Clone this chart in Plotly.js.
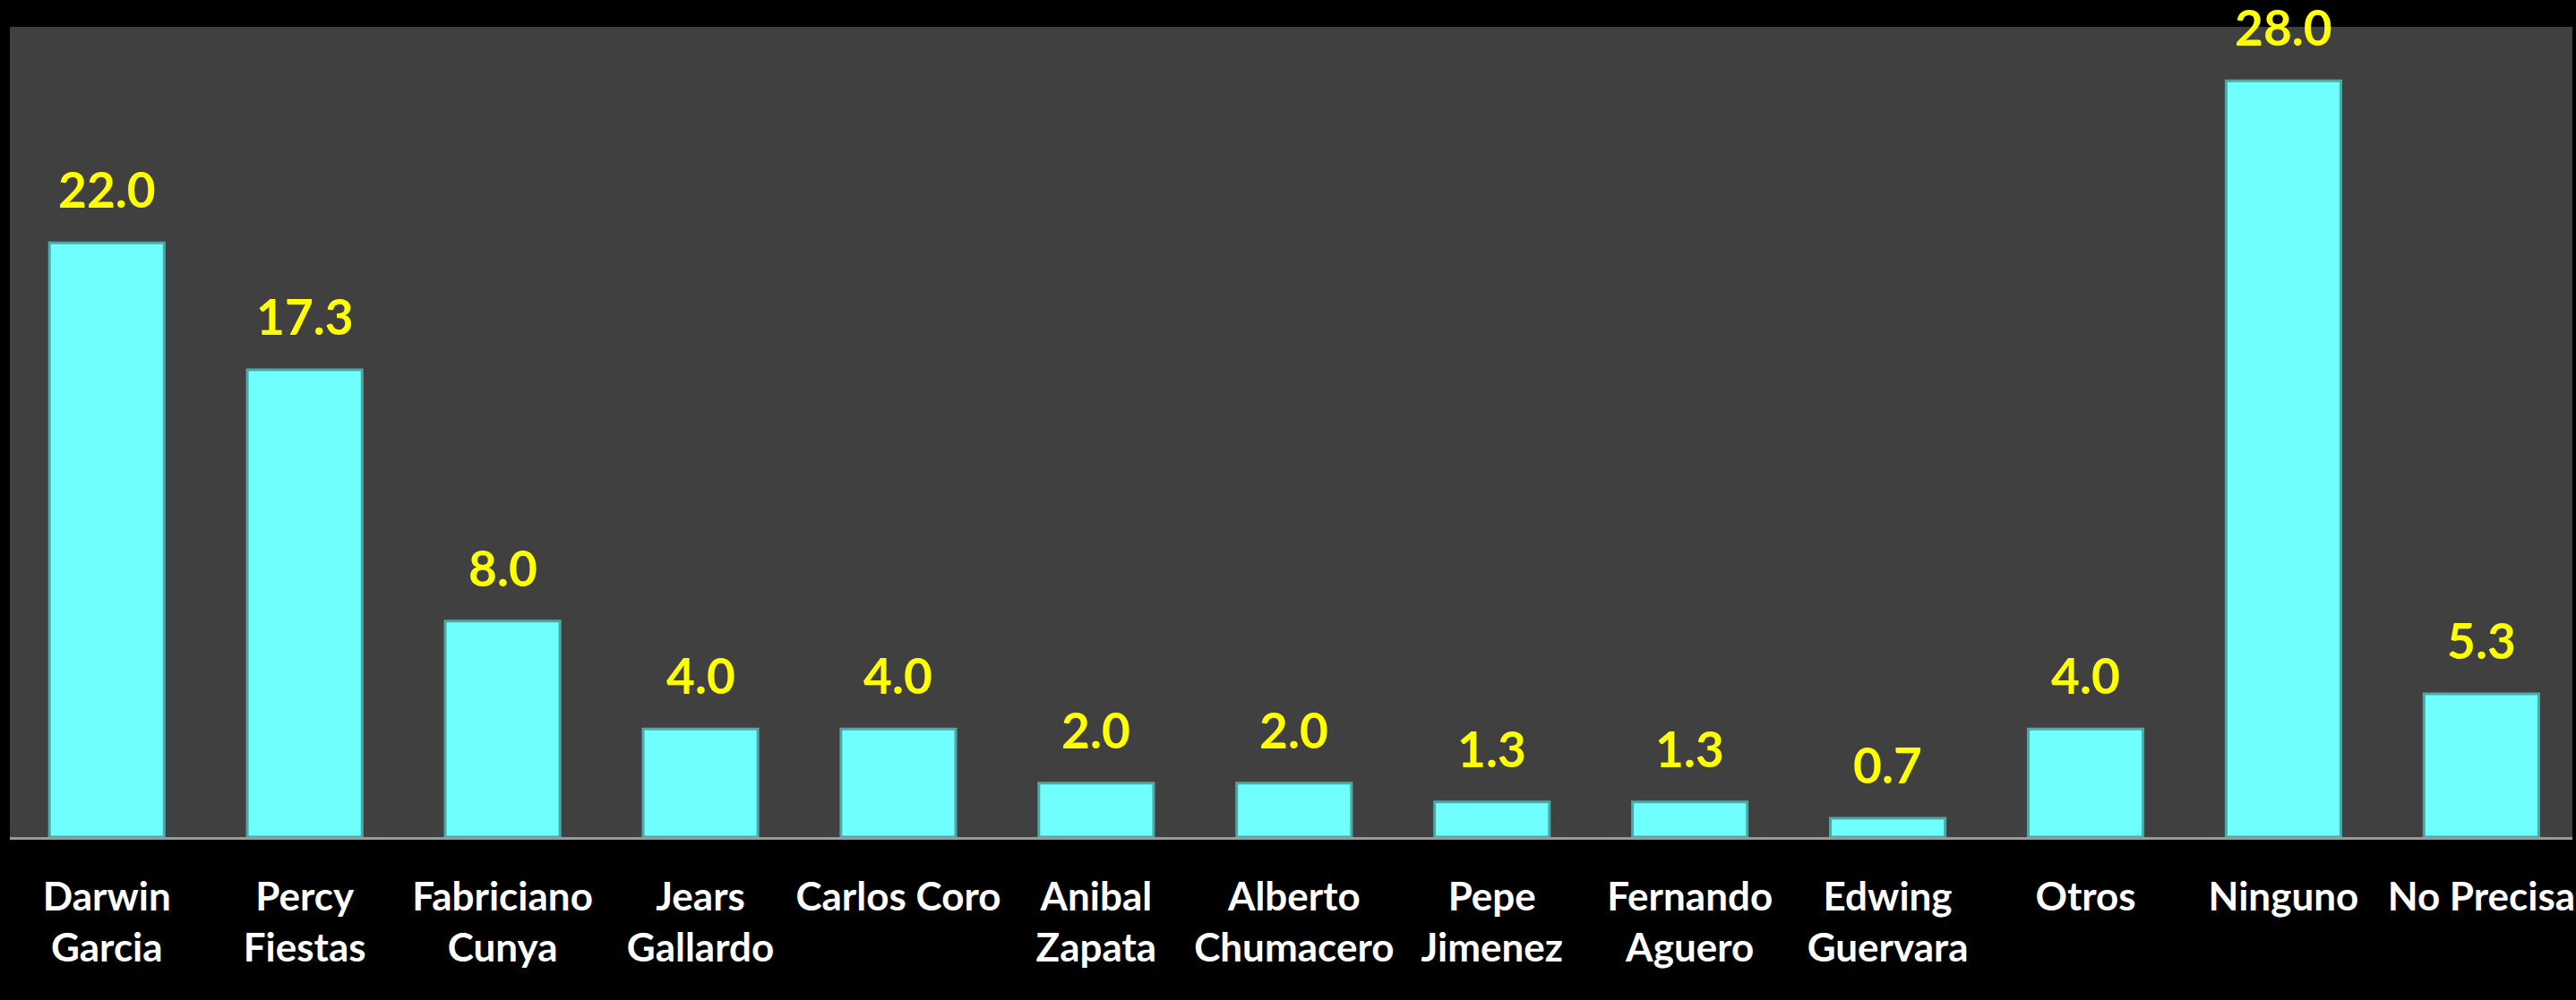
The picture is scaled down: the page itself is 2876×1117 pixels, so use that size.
<!DOCTYPE html>
<html>
<head>
<meta charset="utf-8">
<script src="https://cdn.plot.ly/plotly-3.0.1.min.js"></script>
<style>
html,body{margin:0;padding:0;background:#000;}
#chart{width:2876px;height:1117px;}
</style>
</head>
<body>
<div id="chart"></div>
<script>
const categories = ["Darwin<br>Garcia","Percy<br>Fiestas","Fabriciano<br>Cunya","Jears<br>Gallardo","Carlos Coro","Anibal<br>Zapata","Alberto<br>Chumacero","Pepe<br>Jimenez","Fernando<br>Aguero","Edwing<br>Guervara","Otros","Ninguno","No Precisa"];
const values = [22.0,17.3,8.0,4.0,4.0,2.0,2.0,1.3,1.3,0.7,4.0,28.0,5.3];
const valueLabels = values.map(v => v.toFixed(1));

const trace = {
  type: 'bar',
  x: categories,
  y: values,
  width: 0.58,
  marker: {color: '#6FFFFF', line: {color: '#4FA8A8', width: 3}},
  hoverinfo: 'skip'
};

const annotations = categories.map((c, i) => ({
  x: c, y: values[i], xref: 'x', yref: 'y',
  text: valueLabels[i], showarrow: false,
  yanchor: 'bottom', yshift: 25,
  font: {family: 'Lato, "Open Sans", sans-serif', size: 55, color: '#FFFF00', weight: 'bold'}
}));

const layout = {
  width: 2876, height: 1117,
  paper_bgcolor: '#000000',
  plot_bgcolor: '#404040',
  margin: {l: 11, r: 4, t: 30, b: 182},
  showlegend: false,
  xaxis: {
    type: 'category',
    range: [-0.49, 12.46],
    showline: true, linecolor: '#999999', linewidth: 3,
    ticks: 'outside', ticklen: 26, tickcolor: '#000000', tickwidth: 1,
    showgrid: false, zeroline: false,
    tickfont: {family: 'Lato, "Open Sans", sans-serif', size: 44, color: '#FFFFFF', weight: 'bold'},
    tickangle: 0
  },
  yaxis: {
    range: [0, 30],
    showgrid: false, zeroline: false, showline: false,
    showticklabels: false, ticks: ''
  },
  annotations: annotations
};

Plotly.newPlot('chart', [trace], layout, {displayModeBar: false, staticPlot: true});
</script>
</body>
</html>
